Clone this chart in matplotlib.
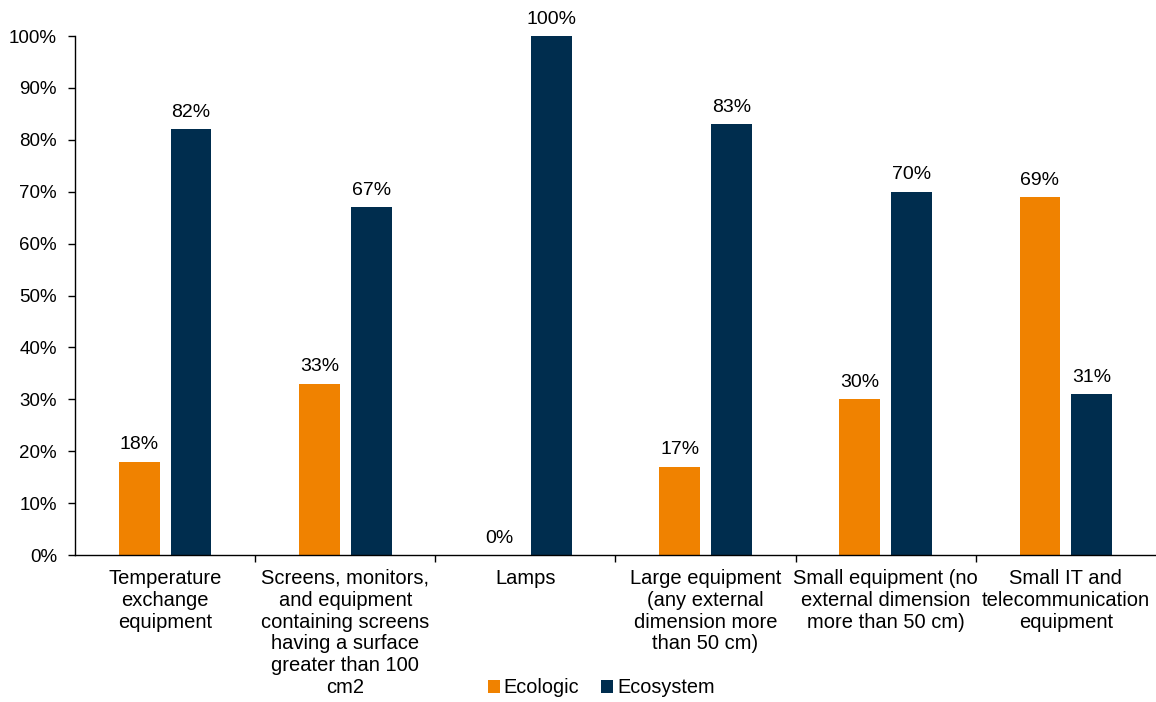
import matplotlib
matplotlib.use("Agg")

import matplotlib.pyplot as plt
import numpy as np
from matplotlib.ticker import FuncFormatter, FixedLocator

plt.rcParams["font.family"] = ["Liberation Sans", "DejaVu Sans"]

categories = [
    "Temperature\nexchange\nequipment",
    "Screens, monitors,\nand equipment\ncontaining screens\nhaving a surface\ngreater than 100\ncm2",
    "Lamps",
    "Large equipment\n(any external\ndimension more\nthan 50 cm)",
    "Small equipment (no\nexternal dimension\nmore than 50 cm)",
    "Small IT and\ntelecommunication\nequipment",
]
ecologic = [18, 33, 0, 17, 30, 69]
ecosystem = [82, 67, 100, 83, 70, 31]

ORANGE = "#F08200"
NAVY = "#002D4E"

fig = plt.figure(figsize=(11.56, 7.02), dpi=100)
ax = fig.add_axes([0.0649, 0.2094, 0.935, 0.7393])

x = np.arange(len(categories))
w = 0.226
off = 0.144

b1 = ax.bar(x - off, ecologic, w, color=ORANGE, label="Ecologic")
b2 = ax.bar(x + off, ecosystem, w, color=NAVY, label="Ecosystem")

for bars, vals in ((b1, ecologic), (b2, ecosystem)):
    for rect, v in zip(bars, vals):
        ax.text(rect.get_x() + rect.get_width() / 2, v + 1.6, f"{v}%",
                ha="center", va="bottom", fontsize=14)

ax.set_xlim(-0.5, len(categories) - 0.5)
ax.set_ylim(0, 100)
ax.set_yticks(np.arange(0, 101, 10))
ax.yaxis.set_major_formatter(FuncFormatter(lambda v, p: f"{int(v)}%"))
ax.tick_params(axis="y", labelsize=13.5, length=5, width=1, direction="out", pad=8)

ax.set_xticks(x)
ax.set_xticklabels(categories, fontsize=14.5, linespacing=1.19)
ax.tick_params(axis="x", which="major", length=0, pad=10)
ax.xaxis.set_minor_locator(FixedLocator(np.arange(0.5, len(categories) - 0.5, 1)))
ax.tick_params(axis="x", which="minor", length=5, width=1, direction="out")

for s in ("top", "right"):
    ax.spines[s].set_visible(False)
ax.spines["left"].set_linewidth(1)
ax.spines["bottom"].set_linewidth(1)

fig.legend(handles=[b1, b2], labels=["Ecologic", "Ecosystem"], loc="center",
           bbox_to_anchor=(0.52, 0.02), ncol=2, frameon=False, fontsize=14.3,
           handlelength=0.6, handleheight=0.6, handletextpad=0.2, columnspacing=1.1)

fig.savefig("out.png", dpi=100)
